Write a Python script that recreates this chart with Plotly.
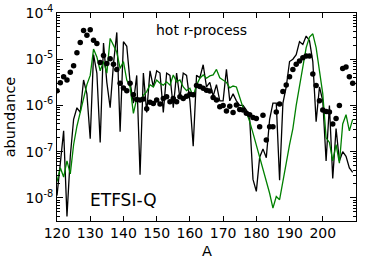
import plotly.graph_objects as go

# Mass number A
mass_number = list(range(120, 210))

# log10(abundance) for the ETFSI-Q calculation (black line)
etfsi_q_log10 = [
    -7.95, -7.20, -6.55, -8.40, -7.10, -6.30, -6.05, -6.15, -5.45, -5.75,
    -6.72, -4.90, -5.30, -6.80, -4.65, -5.50, -6.05, -5.10, -4.42, -6.57,
    -4.62, -4.72, -5.50, -5.95, -5.35, -7.50, -5.30, -6.15, -5.25, -5.60,
    -5.25, -5.30, -6.15, -5.30, -5.35, -6.05, -5.30, -5.85, -5.30, -5.35,
    -5.90, -6.88, -5.35, -5.40, -5.12, -5.60, -5.50, -5.80, -5.55, -5.90,
    -5.90, -5.22, -5.90, -5.75, -5.90, -6.00, -6.00, -6.10, -6.30, -7.60,
    -7.86, -7.12, -6.94, -7.13, -6.30, -5.95, -5.95, -7.62, -5.95, -5.60,
    -5.05, -5.00, -4.90, -4.62, -4.68, -4.50, -4.60, -5.05, -6.35, -5.60,
    -5.90, -7.20, -6.00, -7.58, -6.50, -7.20, -7.00, -7.10, -7.35, -7.45,
]

# log10(abundance) for the second calculation (green line)
green_log10 = [
    -7.65, -7.35, -7.55, -7.20, -7.48, -6.85, -6.45, -6.15, -5.85, -5.55,
    -5.35, -4.78, -4.95, -5.25, -5.05, -5.30, -4.55, -4.70, -4.85, -5.20,
    -5.05, -5.45, -5.60, -6.17, -5.85, -5.90, -5.78, -5.70, -5.55, -5.60,
    -5.45, -5.52, -5.56, -5.49, -5.56, -5.34, -5.49, -5.45, -5.60, -5.68,
    -5.63, -5.80, -5.56, -5.41, -5.34, -5.41, -5.36, -5.34, -5.22, -5.40,
    -5.45, -5.50, -5.62, -5.58, -5.60, -5.85, -6.05, -6.15, -6.35, -6.60,
    -6.85, -7.10, -7.35, -7.60, -7.90, -8.22, -7.97, -8.04, -7.60, -7.25,
    -6.85, -6.50, -6.00, -5.55, -5.10, -4.75, -4.52, -4.45, -4.75, -5.20,
    -5.75, -6.70, -6.80, -7.20, -6.85, -7.25, -6.40, -6.20, -6.55, -6.30,
]

# log10(abundance) for the solar r-process pattern (black dots)
solar_log10 = [
    -5.68, -5.51, -5.38, -5.45, -5.28, -5.14, -4.86, -4.64, -4.38, -4.48,
    -4.36, -4.59, -4.66, -5.07, -4.92, -5.09, -4.99, -5.11, -5.22, -5.52,
    -5.62, -5.68, -5.52, -5.77, -5.87, -5.88, -5.86, -6.07, -5.93, -5.96,
    -5.88, -5.97, -5.85, -5.81, -5.92, -5.85, -5.92, -5.81, -5.85, -5.80,
    -5.76, -5.77, -5.57, -5.59, -5.63, -5.67, -5.69, -5.83, -5.88, -6.03,
    -6.00, -6.12, -6.02, -6.15, -5.99, -6.09, -6.10, -6.17, -6.20, -6.26,
    -6.28, -6.46, -6.21, -6.75, -6.46, -6.46, -6.14, -5.97, -5.70, -5.56,
    -5.38, -5.22, -5.11, -5.04, -4.97, -4.93, -4.93, -5.32, -5.57, -5.90,
    -6.10, -6.13, -6.14, -6.40, -6.28, -6.00, -5.20, -5.17, -5.38, -5.52,
]

x_ticks = [120, 130, 140, 150, 160, 170, 180, 190, 200]
y_exponents = [-8, -7, -6, -5, -4]
y_minor_mantissas = [2, 3, 4, 5, 6, 7, 8, 9]
y_minor_decades = [-9, -8, -7, -6, -5]


def to_abundance(values):
    return [10.0 ** v for v in values]


fig = go.Figure()
fig.add_trace(go.Scatter(
    x=mass_number, y=to_abundance(etfsi_q_log10), mode="lines",
    line=dict(color="black", width=1.3), name="ETFSI-Q"))
fig.add_trace(go.Scatter(
    x=mass_number, y=to_abundance(green_log10), mode="lines",
    line=dict(color="#008000", width=1.3), name="comparison"))
fig.add_trace(go.Scatter(
    x=mass_number, y=to_abundance(solar_log10), mode="markers",
    marker=dict(color="black", size=5.5), name="solar r-process"))

minor_vals = [m * 10.0 ** d for d in y_minor_decades for m in y_minor_mantissas]

font_family = "DejaVu Sans"
fig.update_layout(
    width=374, height=267,
    margin=dict(l=57, r=18, t=13, b=46, autoexpand=False),
    plot_bgcolor="white", paper_bgcolor="white",
    showlegend=False,
    font=dict(family=font_family, size=14, color="black"),
    xaxis=dict(
        range=[120, 210], tickmode="array", tickvals=x_ticks,
        ticktext=[str(t) for t in x_ticks], automargin=False,
        ticks="inside", ticklen=5, tickwidth=1, tickcolor="black",
        ticklabelstandoff=-1,
        showline=True, linecolor="black", linewidth=1, mirror="ticks",
        showgrid=False, zeroline=False,
        tickfont=dict(family=font_family, size=14, color="black"),
    ),
    yaxis=dict(
        type="log", range=[-8.5, -4], tickmode="array",
        tickvals=[10.0 ** e for e in y_exponents],
        ticktext=["10<sup>%d</sup>" % e for e in y_exponents], automargin=False,
        ticks="inside", ticklen=6, tickwidth=1, tickcolor="black",
        minor=dict(ticks="inside", ticklen=3, tickwidth=1, tickcolor="black",
                   tickmode="array", tickvals=minor_vals, showgrid=False),
        showline=True, linecolor="black", linewidth=1, mirror="ticks",
        showgrid=False, zeroline=False,
        tickfont=dict(family=font_family, size=14, color="black"),
    ),
    annotations=[
        dict(text="hot r-process", x=0.483, y=0.919, xref="paper", yref="paper",
             showarrow=False, xanchor="center", yanchor="middle",
             font=dict(family=font_family, size=14, color="black")),
        dict(text="ETFSI-Q", x=0.223, y=0.10, xref="paper", yref="paper",
             showarrow=False, xanchor="center", yanchor="middle",
             font=dict(family=font_family, size=17, color="black")),
        dict(text="A", x=0.5, y=-0.145, xref="paper", yref="paper",
             showarrow=False, xanchor="center", yanchor="middle",
             font=dict(family=font_family, size=14.5, color="black")),
        dict(text="abundance", x=-0.156, y=0.5, xref="paper", yref="paper",
             showarrow=False, xanchor="center", yanchor="middle", textangle=-90,
             font=dict(family=font_family, size=14.5, color="black")),
    ],
)

# Remove the default 8px page margin so the figure sits at the window origin.
fig.write_html(
    "out.html",
    config={"displayModeBar": False},
    post_script="document.body.style.margin='0';"
                "document.documentElement.style.overflow='hidden';",
)
